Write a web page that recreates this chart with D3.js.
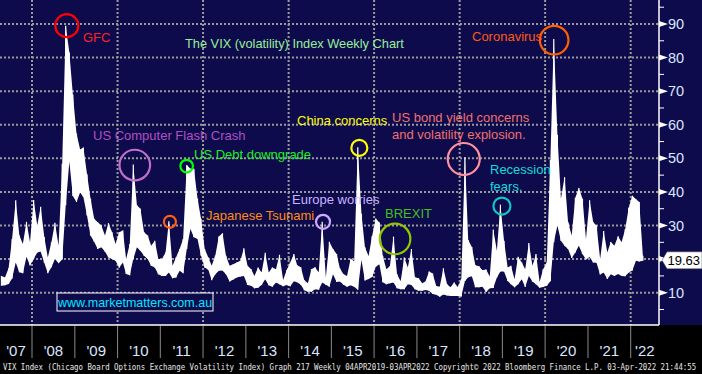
<!DOCTYPE html>
<html>
<head>
<meta charset="utf-8">
<script src="https://cdn.jsdelivr.net/npm/d3@7"></script>
<style>
  html, body { margin: 0; padding: 0; background: #000; }
  svg { display: block; font-family: "Liberation Sans", Arial, sans-serif; }
</style>
</head>
<body>
<svg id="chart" width="702" height="374"></svg>
<script>
// monthly VIX range (intraday low / high), Apr 2007 .. Apr 2022
const firstMonth = new Date(2007, 3, 15);
const vixLow = [
  12.1, 12.2, 12.6, 14.2, 19.0, 16.1, 15.8, 20.7, 18.1,
  20.0, 22.0, 22.3, 18.9, 15.8, 17.6, 20.0, 18.8, 19.9, 36.0, 49.0, 38.8,
  37.0, 39.8, 38.5, 33.0, 27.0, 25.2, 23.0, 23.5, 22.3, 20.5, 20.0, 19.5,
  17.4, 19.0, 15.6, 15.2, 20.0, 23.5, 22.5, 21.0, 20.0, 18.0, 17.5, 15.5,
  15.0, 15.0, 16.0, 14.3, 14.5, 16.5, 15.8, 23.0, 29.0, 26.5, 26.0, 21.0,
  17.5, 16.8, 13.7, 15.5, 16.5, 16.6, 15.5, 13.3, 13.9, 14.5, 14.8, 15.0,
  12.3, 12.1, 11.3, 11.5, 12.3, 14.0, 12.2, 11.8, 13.0, 12.5, 11.9, 12.3,
  11.9, 13.4, 13.1, 12.4, 10.7, 10.3, 10.3, 11.0, 10.9, 13.0, 12.4, 11.8,
  15.5, 13.2, 13.3, 12.4, 11.8, 12.2, 11.8, 10.9, 19.7, 13.6, 14.1, 14.7,
  17.7, 18.5, 13.1, 12.5, 12.8, 13.0, 11.3, 11.0, 11.0, 12.5, 12.3, 11.0,
  10.6, 10.6, 10.8, 10.6, 9.6, 9.4, 8.8, 9.5, 9.2, 9.0, 9.0, 9.0,
  8.9, 13.5, 14.6, 14.9, 11.6, 11.6, 11.8, 10.2, 11.3, 11.4, 14.5, 16.3,
  16.3, 13.5, 12.5, 11.6, 12.5, 14.0, 11.7, 15.0, 13.3, 12.5, 11.5, 11.7,
  12.1, 13.4, 25.0, 30.0, 25.5, 24.0, 23.0, 20.3, 22.0, 24.0, 21.5, 19.9,
  20.6, 19.0, 18.9, 15.4, 16.0, 14.1, 15.5, 15.0, 15.6, 15.0, 14.9, 16.0,
  16.6, 19.5, 19.3, 19.5
];
const vixHigh = [
  15.0, 14.5, 17.3, 26.0, 37.5, 27.0, 24.5, 31.1, 25.0,
  37.6, 30.0, 35.6, 26.6, 20.5, 25.0, 30.8, 24.0, 48.4, 89.5, 81.5, 69.0,
  57.4, 52.6, 53.2, 45.3, 38.0, 32.0, 31.0, 30.0, 27.0, 30.7, 28.0, 24.5,
  28.0, 28.5, 20.0, 24.5, 48.2, 36.0, 35.0, 28.0, 27.0, 24.0, 25.5, 20.0,
  20.0, 22.0, 31.3, 18.0, 20.5, 23.0, 26.0, 48.0, 46.9, 46.9, 38.0, 32.0,
  23.0, 20.5, 18.0, 21.1, 26.7, 27.7, 21.0, 18.0, 18.5, 19.0, 19.5, 23.2,
  18.0, 17.0, 15.0, 17.5, 16.0, 21.9, 16.0, 17.5, 17.0, 21.3, 13.8, 16.7,
  19.0, 21.5, 18.2, 17.6, 13.7, 12.8, 17.0, 17.6, 16.0, 31.1, 14.5, 25.2,
  23.0, 21.5, 17.2, 15.5, 15.0, 20.1, 19.4, 53.3, 33.5, 23.5, 20.9, 26.8,
  32.1, 30.9, 21.0, 17.0, 17.9, 26.7, 15.5, 13.4, 20.5, 17.5, 23.0, 14.6,
  14.3, 12.8, 13.3, 16.3, 15.7, 12.0, 11.8, 17.3, 12.5, 11.6, 13.0, 11.7,
  14.0, 50.3, 25.7, 23.6, 18.2, 17.9, 16.7, 16.9, 14.8, 28.8, 22.5, 36.2,
  25.5, 17.5, 18.0, 14.0, 20.7, 19.0, 17.0, 24.8, 18.0, 21.5, 13.2, 17.0,
  19.0, 49.5, 85.5, 57.0, 38.0, 44.4, 31.0, 27.0, 38.3, 41.2, 38.0, 26.0,
  37.5, 31.0, 30.0, 20.0, 28.4, 22.0, 25.1, 24.0, 26.8, 25.0, 28.9, 35.3,
  38.9, 37.8, 37.0, 21.0
];
const lastValue = 19.63;

const yearLabels = ["'07", "'08", "'09", "'10", "'11", "'12", "'13", "'14", "'15",
  "'16", "'17", "'18", "'19", "'20", "'21", "'22"];
const majorTicks = [10, 20, 30, 40, 50, 60, 70, 80, 90];
const minorTicks = [5, 15, 25, 35, 45, 55, 65, 75, 85, 95];

const titleText = 'The VIX (volatility) Index Weekly Chart';
const footerText = 'VIX Index (Chicago Board Options Exchange Volatility Index) Graph 217  Weekly 04APR2019-03APR2022  Copyright\u00a9 2022 Bloomberg Finance L.P.  03-Apr-2022 21:44:55';

// event markers: date + level of the circled spike
const events = [
  { lines: ['GFC'], tx: 83, ty: 42, color: '#ff2222', date: '2008-10-24', v: 89.5, r: 11.5, ring: '#ff0000' },
  { lines: ['Coronavirus'], tx: 472, ty: 41, color: '#ff5a10', date: '2020-03-18', v: 85.2, r: 14.3, ring: '#ff6000' },
  { lines: ['US Computer Flash Crash'], tx: 93, ty: 140, color: '#b050c0', date: '2010-05-28', v: 48, r: 15.3, ring: '#c070c8' },
  { lines: ['US Debt downgrade'], tx: 194, ty: 159, color: '#20ee20', date: '2011-08-14', v: 47.7, r: 6.3, ring: '#00ff00' },
  { lines: ['Japanese Tsunami'], tx: 206, ty: 220, color: '#ff8c10', date: '2011-03-24', v: 31.1, r: 6, ring: '#ff6010' },
  { lines: ['China concerns'], tx: 297, ty: 125, color: '#ffff00', date: '2015-08-28', v: 53.1, r: 8, ring: '#ffff00' },
  { lines: ['US bond yield concerns', 'and volatility explosion.'], tx: 392, ty: 122, color: '#f07070', date: '2018-02-05', v: 49.8, r: 16, ring: '#ff90a0' },
  { lines: ['Europe worries'], tx: 292, ty: 204, color: '#c8b4ff', date: '2014-10-22', v: 31.1, r: 7, ring: '#d0a8ff' },
  { lines: ['BREXIT'], tx: 385, ty: 218, color: '#40c020', date: '2016-06-28', v: 26, r: 15.3, ring: '#90c800' },
  { lines: ['Recession', 'fears.'], tx: 490, ty: 174, color: '#10dcdc', date: '2018-12-28', v: 35.8, r: 8.5, ring: '#10c8c8' }
];

const W = 702, H = 374;
const plotR = 659, plotB = 325;
const navy = '#0e0b4c';

const svg = d3.select('#chart');

const x = d3.scaleTime()
  .domain([new Date(2008, 0, 1), new Date(2022, 0, 1)])
  .range([32, 630.7]);
const y = d3.scaleLinear().domain([10, 90]).range([292.7, 24]);

const data = vixLow.map((lo, i) => ({
  date: new Date(firstMonth.getFullYear(), firstMonth.getMonth() + i, 15),
  lo,
  hi: vixHigh[i]
}));

// backgrounds
svg.append('rect').attr('width', W).attr('height', H).attr('fill', '#000');
svg.append('rect').attr('width', W).attr('height', plotB).attr('fill', navy);

// grid
const grid = svg.append('g')
  .attr('stroke', '#9a9a9a')
  .attr('stroke-width', 2)
  .attr('stroke-dasharray', '2,2');
grid.selectAll('line.h')
  .data(majorTicks)
  .join('line')
  .attr('class', 'h')
  .attr('x1', 0).attr('x2', plotR)
  .attr('y1', (d) => y(d)).attr('y2', (d) => y(d));
const evenYears = d3.range(2008, 2023, 2).map((yr) => new Date(yr, 0, 1));
grid.selectAll('line.v')
  .data(evenYears)
  .join('line')
  .attr('class', 'v')
  .attr('x1', (d) => x(d)).attr('x2', (d) => x(d))
  .attr('y1', 0).attr('y2', plotB);

// price band
const band = d3.area()
  .x((d) => x(d.date))
  .y0((d) => y(d.lo))
  .y1((d) => y(d.hi));
svg.append('path')
  .datum(data)
  .attr('d', band)
  .attr('fill', '#fff');
svg.append('g')
  .selectAll('line')
  .data(data)
  .join('line')
  .attr('x1', (d) => x(d.date)).attr('x2', (d) => x(d.date))
  .attr('y1', (d) => y(d.lo)).attr('y2', (d) => y(d.hi))
  .attr('stroke', '#fff')
  .attr('stroke-width', 1.2);

// watermark
svg.append('rect')
  .attr('x', 57).attr('y', 293).attr('width', 156).attr('height', 18)
  .attr('fill', navy).attr('stroke', '#fff').attr('stroke-width', 1);
svg.append('text')
  .attr('x', 135).attr('y', 306.5)
  .attr('text-anchor', 'middle')
  .attr('fill', '#00e8ff')
  .attr('font-size', '12.5px')
  .text('www.marketmatters.com.au');

// event circles and labels
events.forEach((e) => {
  svg.append('circle')
    .attr('cx', x(new Date(e.date)))
    .attr('cy', y(e.v))
    .attr('r', e.r)
    .attr('fill', 'none')
    .attr('stroke', e.ring)
    .attr('stroke-width', 2.2);
  e.lines.forEach((ln, i) => {
    svg.append('text')
      .attr('x', e.tx)
      .attr('y', e.ty + i * 16.5)
      .attr('fill', e.color)
      .attr('font-size', '13px')
      .text(ln);
  });
});

svg.append('text')
  .attr('x', 185).attr('y', 48)
  .attr('fill', '#98ee98')
  .attr('font-size', '12.8px')
  .text(titleText);

// right axis
const ly = y(lastValue);
const ax = svg.append('g');
ax.append('line')
  .attr('x1', plotR).attr('x2', plotR).attr('y1', 0).attr('y2', plotB)
  .attr('stroke', '#fff').attr('stroke-width', 1.5);
ax.selectAll('line.minor')
  .data(minorTicks)
  .join('line')
  .attr('class', 'minor')
  .attr('x1', plotR).attr('x2', plotR + 5)
  .attr('y1', (d) => y(d)).attr('y2', (d) => y(d))
  .attr('stroke', '#fff').attr('stroke-width', 1);
ax.selectAll('path.arrow')
  .data(majorTicks)
  .join('path')
  .attr('class', 'arrow')
  .attr('d', (d) => `M${plotR},${y(d) - 3}L${plotR + 9},${y(d)}L${plotR},${y(d) + 3}Z`)
  .attr('fill', '#fff');
// the last-value tag hides the label it sits on
ax.selectAll('text')
  .data(majorTicks.filter((d) => Math.abs(y(d) - ly) > 12))
  .join('text')
  .attr('x', plotR + 9)
  .attr('y', (d) => y(d) + 5)
  .attr('fill', '#d8e6ff')
  .attr('font-size', '14.5px')
  .text((d) => d);

// last value tag
svg.append('path')
  .attr('d', `M662,${ly}L667,${ly - 8.5}L702,${ly - 8.5}L702,${ly + 8.5}L667,${ly + 8.5}Z`)
  .attr('fill', '#fff').attr('stroke', '#444').attr('stroke-width', 0.5);
svg.append('text')
  .attr('x', 667.5).attr('y', ly + 4.8)
  .attr('fill', '#000')
  .attr('font-size', '13px')
  .text(lastValue.toFixed(2));

// bottom axis
svg.append('line')
  .attr('x1', 0).attr('x2', plotR).attr('y1', plotB).attr('y2', plotB)
  .attr('stroke', '#fff').attr('stroke-width', 1.5);
const yearStarts = d3.range(2008, 2023).map((yr) => new Date(yr, 0, 1));
svg.append('g')
  .selectAll('line')
  .data(yearStarts)
  .join('line')
  .attr('x1', (d) => x(d)).attr('x2', (d) => x(d))
  .attr('y1', plotB + 1).attr('y2', 358)
  .attr('stroke', '#8a8a8a').attr('stroke-width', 1);
svg.append('g')
  .selectAll('text')
  .data(yearLabels)
  .join('text')
  .attr('x', (d, i) => {
    const a = x(new Date(2007 + i, 0, 1));
    const b = i === yearLabels.length - 1 ? plotR : x(new Date(2008 + i, 0, 1));
    return (Math.max(a, 0) + b) / 2;
  })
  .attr('y', 356)
  .attr('text-anchor', 'middle')
  .attr('fill', '#d8e6ff')
  .attr('font-size', '15px')
  .text((d) => d);

// footer: condensed mono line squeezed to the full width
const foot = svg.append('text')
  .attr('fill', '#e8e8e8')
  .attr('font-family', '"DejaVu Sans Mono", monospace')
  .attr('font-size', '9.5px')
  .text(footerText);
const fw = foot.node().getComputedTextLength();
foot.attr('transform', `translate(3,370) scale(${694 / fw},1)`);
</script>
</body>
</html>
